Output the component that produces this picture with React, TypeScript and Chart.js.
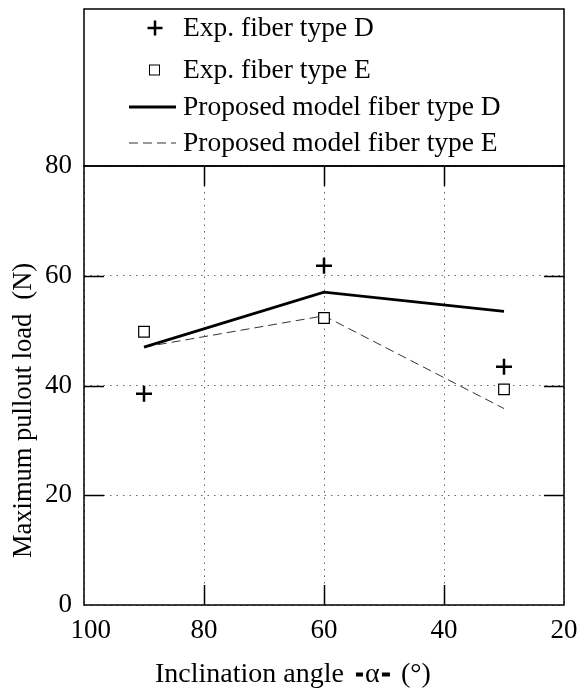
import React, { useEffect, useRef } from "react";
import { Chart, registerables } from "chart.js";

Chart.register(...registerables);

const angles = [90, 60, 30];
const expD = [38.5, 61.8, 43.4];
const expE = [49.8, 52.3, 39.3];
const modelD = [47.0, 57.0, 53.5];
const modelE = [47.0, 52.7, 35.8];
const xTicks = [100, 80, 60, 40, 20];
const yTicks = [0, 20, 40, 60, 80];
const seriesLabels = [
  "Exp. fiber type D",
  "Exp. fiber type E",
  "Proposed model fiber type D",
  "Proposed model fiber type E",
];
const xTitleParts = ["Inclination angle", "-", "\u03b1", "-", "(\u00b0)"];
const yTitleParts = ["Maximum pullout load", "(N)"];

const FONT = "'Liberation Serif', 'Times New Roman', serif";

const toPts = (ys: number[]) => angles.map((x, i) => ({ x, y: ys[i] }));

const framePlugin = {
  id: "frameAndLegend",
  afterDraw(chart: any) {
    const { ctx, chartArea: a, scales } = chart;
    const xs = scales.x;
    const ys = scales.y;
    ctx.save();
    ctx.setLineDash([]);
    ctx.strokeStyle = "#000";
    ctx.lineWidth = 1.5;
    ctx.strokeRect(a.left, a.top, a.right - a.left, a.bottom - a.top);
    const L = 20;
    ctx.beginPath();
    xTicks.slice(1, -1).forEach((v) => {
      const px = Math.round(xs.getPixelForValue(v)) + 0.5;
      ctx.moveTo(px, a.bottom);
      ctx.lineTo(px, a.bottom - L);
      ctx.moveTo(px, a.top);
      ctx.lineTo(px, a.top + L);
    });
    yTicks.slice(1, -1).forEach((v) => {
      const py = Math.round(ys.getPixelForValue(v)) + 0.5;
      ctx.moveTo(a.left, py);
      ctx.lineTo(a.left + L, py);
      ctx.moveTo(a.right, py);
      ctx.lineTo(a.right - L, py);
    });
    ctx.stroke();

    // axis titles
    ctx.fillStyle = "#000";
    ctx.textAlign = "left";
    ctx.textBaseline = "alphabetic";
    ctx.font = `28px ${FONT}`;
    const tb = 682;
    const x0 = 155;
    ctx.fillText(xTitleParts[0], x0, tb);
    const e = x0 + ctx.measureText(xTitleParts[0]).width;
    ctx.fillRect(e + 12, tb - 9.5, 7, 4);
    ctx.fillText(xTitleParts[2], e + 21, tb);
    ctx.fillRect(e + 38, tb - 9.5, 8, 4);
    ctx.fillText(xTitleParts[4], e + 57, tb);

    ctx.save();
    ctx.font = `26.5px ${FONT}`;
    ctx.translate(31, 558);
    ctx.rotate(-Math.PI / 2);
    ctx.fillText(yTitleParts[0], 0, 0);
    const w0 = ctx.measureText(yTitleParts[0]).width;
    ctx.fillText(yTitleParts[1], w0 + 14, 0);
    ctx.restore();

    // legend box
    const boxTop = 9;
    ctx.strokeRect(a.left, boxTop, a.right - a.left, a.top - boxTop);
    const rows = [28, 70, 107, 143];
    const mx = 155;
    const tx = 183;
    ctx.font = `27.5px ${FONT}`;
    ctx.textBaseline = "middle";
    ctx.textAlign = "left";
    chart.data.datasets.forEach((ds: any, i: number) => {
      const y = rows[i];
      ctx.save();
      if (i === 0) {
        ctx.lineWidth = 2.5;
        ctx.beginPath();
        ctx.moveTo(mx - 7.5, y);
        ctx.lineTo(mx + 7.5, y);
        ctx.moveTo(mx, y - 7.5);
        ctx.lineTo(mx, y + 7.5);
        ctx.stroke();
      } else if (i === 1) {
        ctx.lineWidth = 1;
        ctx.strokeRect(mx - 5.5, y - 5, 10, 10);
      } else {
        ctx.lineWidth = ds.borderWidth;
        ctx.strokeStyle = ds.borderColor;
        ctx.setLineDash(ds.borderDash || []);
        ctx.beginPath();
        ctx.moveTo(129, y);
        ctx.lineTo(176, y);
        ctx.stroke();
      }
      ctx.restore();
      ctx.fillText(ds.label, tx, y + 1);
    });
    ctx.restore();
  },
};

export default function App() {
  const ref = useRef<HTMLCanvasElement | null>(null);
  useEffect(() => {
    if (!ref.current) return;
    const chart = new Chart(ref.current, {
      type: "scatter",
      data: {
        datasets: [
          {
            label: seriesLabels[0],
            data: toPts(expD),
            pointStyle: "cross",
            pointRadius: 8,
            borderWidth: 2.5,
            borderColor: "#000",
            backgroundColor: "#000",
            showLine: false,
          },
          {
            label: seriesLabels[1],
            data: toPts(expE),
            pointStyle: "rect",
            pointRadius: 7.5,
            borderWidth: 1.2,
            borderColor: "#000",
            backgroundColor: "#fff",
            showLine: false,
          },
          {
            label: seriesLabels[2],
            data: toPts(modelD),
            showLine: true,
            pointRadius: 0,
            borderWidth: 2.8,
            borderColor: "#000",
            backgroundColor: "#000",
          },
          {
            label: seriesLabels[3],
            data: toPts(modelE),
            showLine: true,
            pointRadius: 0,
            borderWidth: 1,
            borderColor: "#333",
            backgroundColor: "#333",
            borderDash: [9, 5],
          },
        ],
      },
      options: {
        animation: false,
        responsive: false,
        maintainAspectRatio: false,
        layout: { padding: { top: 166, right: 13, left: 0, bottom: 0 } },
        plugins: { legend: { display: false }, tooltip: { enabled: false } },
        scales: {
          x: {
            type: "linear",
            reverse: true,
            min: 20,
            max: 100,
            afterBuildTicks: (s: any) => {
              s.ticks = xTicks.map((v) => ({ value: v }));
            },
            afterFit: (s: any) => {
              s.height = 84;
              s.paddingRight = 0;
              s.paddingLeft = 0;
            },
            ticks: {
              color: "#000",
              font: { family: FONT, size: 27 },
              padding: 10,
              maxRotation: 0,
              callback: (v: any) => (v === 100 ? "\u2002100" : String(v)),
            },
            grid: { color: "#666", lineWidth: 1, drawTicks: false },
            border: { display: false, dash: [1.5, 5] },
            title: { display: false },
          },
          y: {
            type: "linear",
            min: 0,
            max: 80,
            afterBuildTicks: (s: any) => {
              s.ticks = yTicks.map((v) => ({ value: v }));
            },
            afterFit: (s: any) => {
              s.width = 84;
            },
            ticks: {
              color: "#000",
              font: { family: FONT, size: 27 },
              padding: 12,
            },
            grid: { color: "#666", lineWidth: 1, drawTicks: false },
            border: { display: false, dash: [1.5, 5] },
            title: { display: false },
          },
        },
      },
      plugins: [framePlugin],
    });
    return () => chart.destroy();
  }, []);
  return (
    <div style={{ position: "absolute", left: 0, top: 0, width: 577, height: 689, background: "#fff" }}>
      <canvas ref={ref} width={577} height={689} style={{ display: "block" }} />
    </div>
  );
}
